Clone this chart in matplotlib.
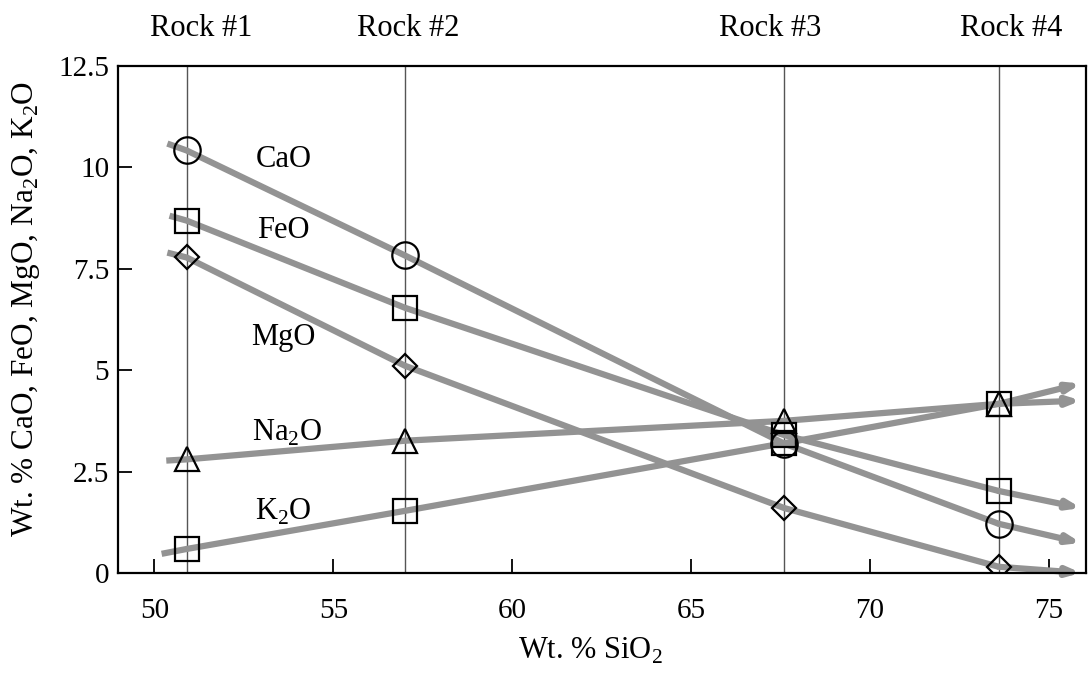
import matplotlib
matplotlib.use("Agg")
import matplotlib.pyplot as plt

plt.rcParams['font.family'] = ['Liberation Serif', 'DejaVu Serif']
plt.rcParams['mathtext.fontset'] = 'custom'
plt.rcParams['mathtext.rm'] = 'Liberation Serif'

# Data
rock_names = ["Rock #1", "Rock #2", "Rock #3", "Rock #4"]
rock_sio2 = [50.9, 57.0, 67.6, 73.6]
rock_label_x = [51.3, 57.1, 67.2, 73.95]

cao = [10.42, 7.83, 3.19, 1.21]
feo = [8.69, 6.54, 3.40, 2.02]
mgo = [7.78, 5.11, 1.60, 0.15]
na2o = [2.80, 3.26, 3.75, 4.17]
k2o = [0.59, 1.53, 3.20, 4.17]

# hand-drawn trend lines: start and end points
trend_start_x = [50.36, 50.42, 50.36, 50.33, 50.2]
trend_start_y = [10.59, 8.81, 7.90, 2.77, 0.47]
trend_end_x = [75.9, 75.9, 75.9, 75.9, 75.9]
trend_end_y = [0.74, 1.60, 0.00, 4.25, 4.67]

series_names = ["CaO", "FeO", "MgO", "Na$_2$O", "K$_2$O"]
series_vals = [cao, feo, mgo, na2o, k2o]
series_markers = ["o", "s", "D", "^", "s"]
series_msize = [19, 17, 12, 17, 17]
label_x = [53.6, 53.6, 53.6, 53.7, 53.6]
label_y = [10.2, 8.45, 5.8, 3.45, 1.5]

x_ticks = [50, 55, 60, 65, 70, 75]
y_ticks = [0, 2.5, 5, 7.5, 10, 12.5]
y_ticklabels = ["0", "2.5", "5", "7.5", "10", "12.5"]

fig = plt.figure(figsize=(10.89, 6.82), dpi=100)
ax = fig.add_axes([0.108, 0.160, 0.889, 0.743])
ax.set_xlim(48.97, 76.03)
ax.set_ylim(0, 12.5)

for xv in rock_sio2:
    ax.axvline(xv, color="#555555", lw=1.0, zorder=1)

gray = "#939393"
for i, vals in enumerate(series_vals):
    xs = [trend_start_x[i]] + rock_sio2 + [trend_end_x[i]]
    ys = [trend_start_y[i]] + vals + [trend_end_y[i]]
    ax.plot(xs[:-1], ys[:-1], color=gray, lw=4.5, solid_capstyle="butt", zorder=2)
    ax.annotate("", xy=(xs[-1], ys[-1]), xytext=(xs[-2], ys[-2]),
                arrowprops=dict(arrowstyle="-|>,head_length=0.7,head_width=0.25",
                                color=gray, lw=4.5, shrinkA=0, shrinkB=0),
                zorder=2, annotation_clip=False)
    ax.plot(rock_sio2, vals, linestyle="none", marker=series_markers[i],
            markersize=series_msize[i], markerfacecolor="none",
            markeredgecolor="black", markeredgewidth=1.6, zorder=3)
    ax.text(label_x[i], label_y[i], series_names[i], fontsize=22,
            ha="center", va="center")

for name, xv in zip(rock_names, rock_label_x):
    ax.text(xv, 1.045, name, transform=ax.get_xaxis_transform(),
            fontsize=22, ha="center", va="bottom", clip_on=False)

ax.set_xticks(x_ticks)
ax.set_yticks(y_ticks)
ax.set_yticklabels(y_ticklabels)
ax.tick_params(direction="in", length=10, width=1.3, labelsize=21, pad=6)
ax.tick_params(axis="x", pad=18)
for s in ax.spines.values():
    s.set_linewidth(1.6)

ax.set_xlabel("Wt. % SiO$_2$", fontsize=22)
ax.xaxis.set_label_coords(0.488, -0.125)
ax.set_ylabel("Wt. % CaO, FeO, MgO, Na$_2$O, K$_2$O", fontsize=22.5)
ax.yaxis.set_label_coords(-0.078, 0.52)

fig.savefig("out.png", dpi=100)
